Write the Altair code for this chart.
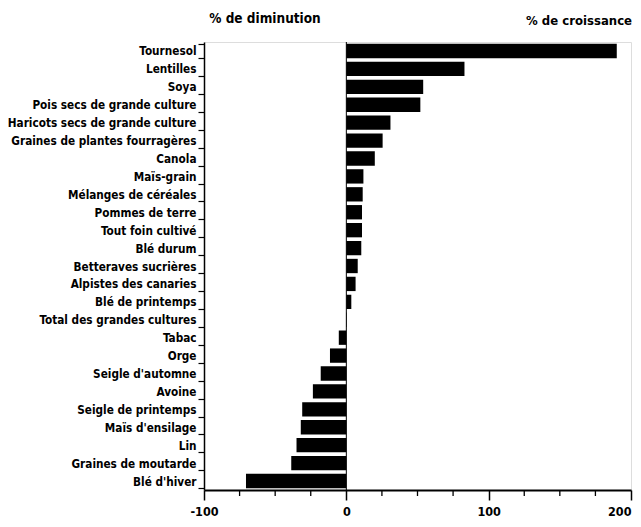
import altair as alt
import pandas as pd

crops = [
    "Tournesol", "Lentilles", "Soya", "Pois secs de grande culture",
    "Haricots secs de grande culture", "Graines de plantes fourragères",
    "Canola", "Maïs-grain", "Mélanges de céréales", "Pommes de terre",
    "Tout foin cultivé", "Blé durum", "Betteraves sucrières",
    "Alpistes des canaries", "Blé de printemps", "Total des grandes cultures",
    "Tabac", "Orge", "Seigle d'automne", "Avoine", "Seigle de printemps",
    "Maïs d'ensilage", "Lin", "Graines de moutarde", "Blé d'hiver",
]
values = [
    190, 83, 54, 52, 31, 25.5, 20, 12, 11.5, 11, 11, 10.5, 8, 6.5, 3.5, 0.3,
    -5.3, -11.5, -18, -23.5, -31, -32, -35, -38.7, -70.5,
]
major_ticks = [-100, 0, 100, 200]
minor_ticks = [-75, -50, -25, 25, 50, 75, 125, 150, 175]
titles = ["% de diminution", "% de croissance"]

FONT = "DejaVu Sans Condensed, DejaVu Sans, sans-serif"

df = pd.DataFrame({"crop": crops, "value": values})

xscale = alt.Scale(domain=[-100, 200], nice=False, zero=False)

bars = alt.Chart(df).mark_bar(color="black").encode(
    y=alt.Y(
        "crop:N",
        sort=crops,
        title=None,
        scale=alt.Scale(paddingInner=0.2, paddingOuter=0.1),
        axis=alt.Axis(
            tickBand="extent", tickSize=6, tickColor="black", tickWidth=1.2,
            domainColor="black", domainWidth=1.5, labelColor="black",
            labelFont=FONT, labelFontSize=11.7, labelFontWeight="bold",
            labelPadding=2, labelLimit=400,
        ),
    ),
    x=alt.X(
        "value:Q",
        scale=xscale,
        title=None,
        axis=alt.Axis(
            values=major_ticks, grid=False, tickSize=10, tickColor="black",
            tickWidth=1.5, domainColor="black", domainWidth=2,
            labelColor="black", labelFont=FONT, labelFontSize=12.5,
            labelFontWeight="bold", labelPadding=5, labelFlush=False,
            labelExpr="'' + datum.value",
            labelAlign={
                "condition": {"test": "datum.value == 200", "value": "right"},
                "value": "center",
            },
        ),
    ),
)

zero = alt.Chart(pd.DataFrame({"x": [0]})).mark_rule(
    color="black", strokeWidth=1
).encode(x=alt.X("x:Q", scale=xscale))

minor = alt.Chart(pd.DataFrame({"t": minor_ticks})).mark_rule(
    color="black", strokeWidth=1.3
).encode(
    x=alt.X("t:Q", scale=xscale),
    y=alt.value(448),
    y2=alt.value(454),
)

t_left = alt.Chart(pd.DataFrame({"label": [titles[0]]})).mark_text(
    font=FONT, fontSize=13.5, fontWeight="bold", color="black", align="center"
).encode(text="label:N", x=alt.value(61), y=alt.value(-23))

t_right = alt.Chart(pd.DataFrame({"label": [titles[1]]})).mark_text(
    font=FONT, fontSize=13, fontWeight="bold", color="black", align="right"
).encode(text="label:N", x=alt.value(428), y=alt.value(-21))

chart = (
    alt.layer(bars, zero, minor, t_left, t_right)
    .properties(
        width=427, height=448, autosize="none",
        padding={"left": 196, "top": 34, "right": 2, "bottom": 32},
    )
    .configure_view(stroke="black", strokeWidth=1.5)
    .configure(background="white")
)

chart.save("out.html", embed_options={"renderer": "svg", "actions": False})
